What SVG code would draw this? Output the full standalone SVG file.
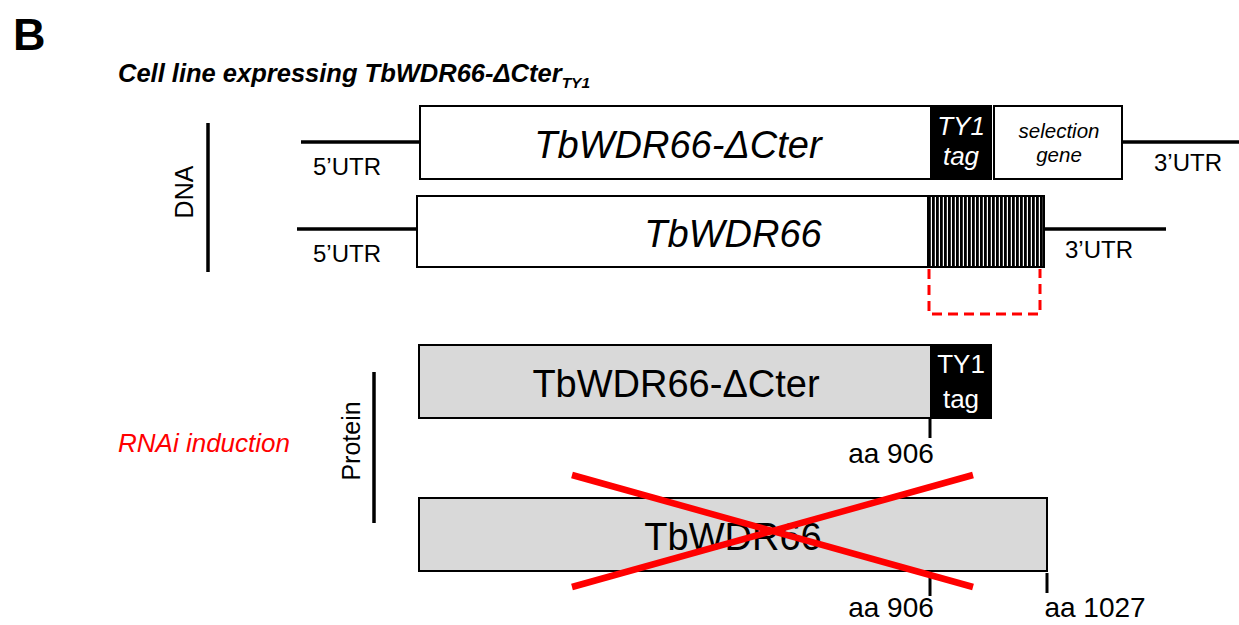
<svg xmlns="http://www.w3.org/2000/svg" width="1239" height="625" viewBox="0 0 1239 625">
<style>
text{font-family:"Liberation Sans",Arial,sans-serif;fill:#000}
.box{fill:#fff;stroke:#000;stroke-width:2}
.gbox{fill:#d9d9d9;stroke:#000;stroke-width:2}
.blk{fill:#000;stroke:#000;stroke-width:2}
.ln{stroke:#000;stroke-width:3.5;fill:none}
.tick{stroke:#000;stroke-width:3;fill:none}
.utr{font-size:24px}
.big{font-size:38px;text-anchor:middle}
.tag{font-size:26px;text-anchor:middle;fill:#fff}
.aa{font-size:28px;text-anchor:middle}
.red{stroke:#ff0000;stroke-width:6.5;fill:none}
</style>
<defs>
<pattern id="hatch" patternUnits="userSpaceOnUse" x="928" y="0" width="4" height="10">
<rect x="0" y="0" width="4" height="10" fill="#fff"/>
<rect x="0" y="0" width="2.8" height="10" fill="#000"/>
</pattern>
</defs>

<g id="label-B"><text x="13" y="50" font-size="45" font-weight="bold">B</text></g>
<g id="title"><text x="118" y="82" font-size="25.5" font-weight="bold" font-style="italic">Cell line expressing TbWDR66-ΔCter<tspan font-size="15.5" dy="6">TY1</tspan></text></g>

<g id="dna-axis">
<line class="ln" x1="208" y1="123" x2="208" y2="272"/>
<text transform="translate(193,192) rotate(-90)" font-size="25" text-anchor="middle">DNA</text>
</g>

<g id="dna-construct">
<line class="ln" x1="301" y1="142" x2="420" y2="142"/>
<line class="ln" x1="1122" y1="142" x2="1239" y2="142"/>
<text class="utr" x="313" y="175">5’UTR</text>
<text class="utr" x="1154" y="171">3’UTR</text>
<rect class="box" x="420" y="106" width="511" height="73"/>
<text class="big" x="678" y="158" font-style="italic">TbWDR66-ΔCter</text>
<rect class="blk" x="931" y="106" width="60" height="73"/>
<text class="tag" x="961" y="135" font-style="italic">TY1</text>
<text class="tag" x="961" y="165" font-style="italic">tag</text>
<rect class="box" x="994" y="106" width="128" height="73"/>
<text x="1059" y="138" font-size="20.5" font-style="italic" text-anchor="middle">selection</text>
<text x="1059" y="162" font-size="20.5" font-style="italic" text-anchor="middle">gene</text>
</g>

<g id="dna-endogenous">
<line class="ln" x1="297" y1="229" x2="417" y2="229"/>
<line class="ln" x1="1044" y1="229" x2="1166" y2="229"/>
<text class="utr" x="313" y="262">5’UTR</text>
<text class="utr" x="1065" y="258">3’UTR</text>
<rect class="box" x="417" y="196" width="627" height="71"/>
<rect x="928" y="196" width="116" height="71" fill="url(#hatch)" stroke="#000" stroke-width="2"/>
<text class="big" x="733" y="247" font-style="italic">TbWDR66</text>
<path d="M929,269 V314 H1040 V269" fill="none" stroke="#ff0000" stroke-width="3" stroke-dasharray="10,6"/>
</g>

<g id="rnai"><text x="118" y="452" font-size="26" font-style="italic" style="fill:#ff0000">RNAi induction</text></g>

<g id="protein-axis">
<line class="ln" x1="374" y1="372" x2="374" y2="523"/>
<text transform="translate(360,441) rotate(-90)" font-size="25" text-anchor="middle">Protein</text>
</g>

<g id="protein-truncated">
<rect class="gbox" x="419" y="345" width="512" height="73"/>
<text class="big" x="676" y="397">TbWDR66-ΔCter</text>
<rect class="blk" x="931" y="345" width="60" height="73"/>
<text class="tag" x="961" y="373">TY1</text>
<text class="tag" x="961" y="408">tag</text>
<line class="tick" x1="930" y1="419" x2="930" y2="438"/>
<text class="aa" x="891" y="463">aa 906</text>
</g>

<g id="protein-full">
<rect class="gbox" x="419" y="498" width="628" height="73"/>
<text class="big" x="733" y="550">TbWDR66</text>
<line class="tick" x1="930" y1="573" x2="930" y2="596"/>
<line class="tick" x1="1047" y1="573" x2="1047" y2="593"/>
<text class="aa" x="891" y="617">aa 906</text>
<text class="aa" x="1095" y="617">aa 1027</text>
</g>

<g id="connectors">
<line class="red" x1="572" y1="475" x2="973" y2="587"/>
<line class="red" x1="572" y1="587" x2="973" y2="475"/>
</g>
</svg>
